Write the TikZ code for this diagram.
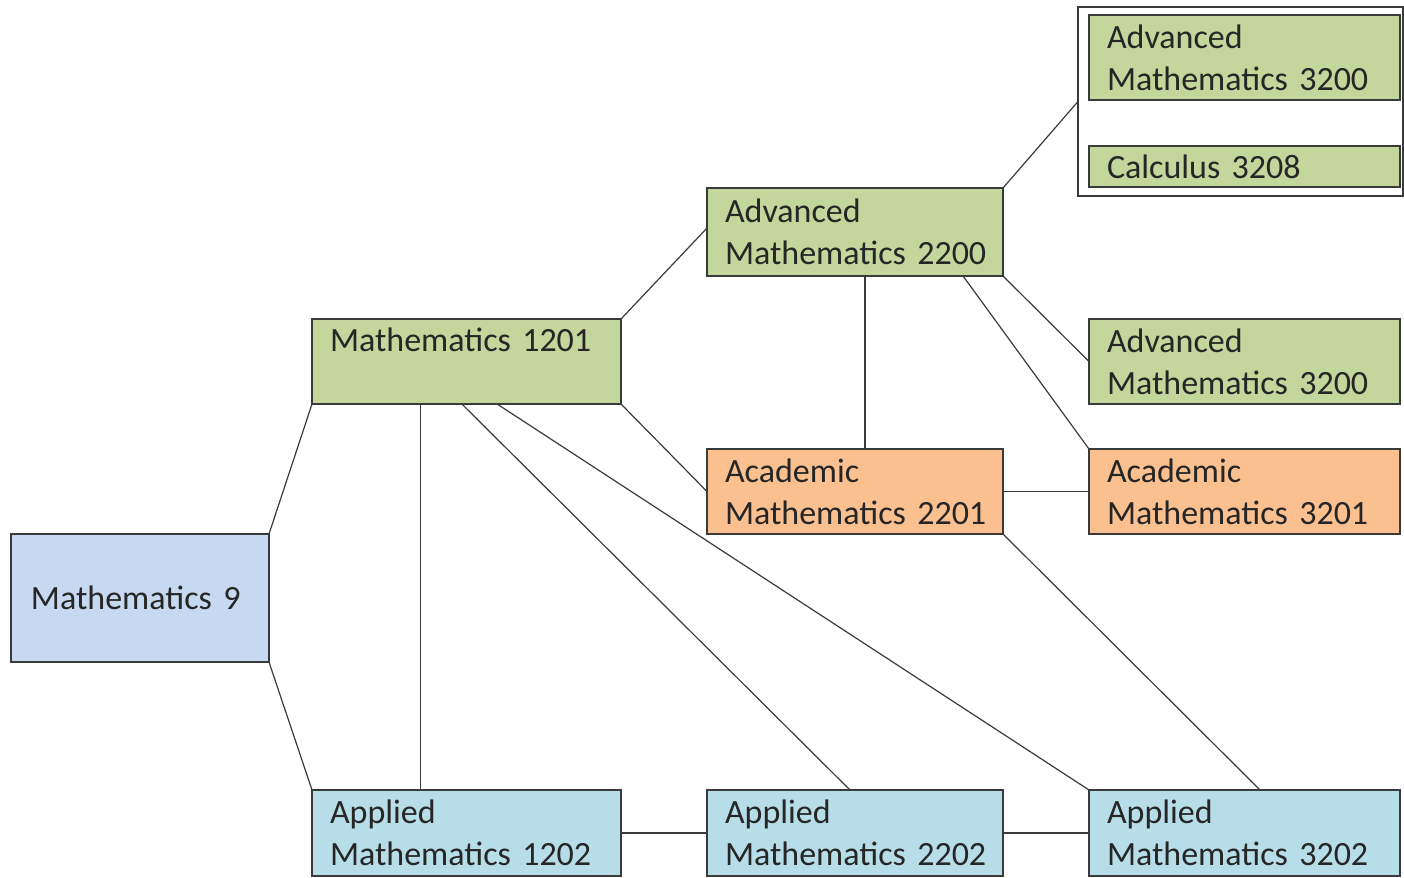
\documentclass[tikz,border=0pt]{standalone}
\usepackage{fontspec}
\setmainfont{Carlito}
\usetikzlibrary{calc}
\definecolor{grn}{HTML}{C3D69B}
\definecolor{org}{HTML}{FAC090}
\definecolor{blu}{HTML}{C6D9F1}
\definecolor{lbl}{HTML}{B7DEE8}
\definecolor{bord}{HTML}{3A3A3A}
\definecolor{txt}{HTML}{262626}
\begin{document}
\begin{tikzpicture}[x=0.75pt,y=-0.75pt,
  box/.style={draw=bord, line width=1.1pt, anchor=north west, inner xsep=13.5pt, inner ysep=0pt,
    outer sep=0pt, align=left, font=\fontsize{25.5}{31.5}\selectfont, text=txt},
  wide/.style={box, minimum width=231.75pt, text width=204.75pt},
  mid/.style={box, minimum width=222pt, text width=195pt},
  right/.style={box, minimum width=233.25pt, text width=206.25pt},
  conn/.style={draw=bord, line width=0.9pt}]
\useasboundingbox (0,0) rectangle (1404,878);
% nodes
\node[box, fill=blu, minimum width=193.5pt, text width=163.5pt, inner xsep=15pt, minimum height=96pt] (m9) at (11,534) {Mathematics 9};
\node[wide, fill=grn, text height=24pt, text depth=39.75pt] (m1201) at (312,319) {Mathematics 1201};
\node[wide, fill=lbl, minimum height=64.5pt] (a1202) at (312,790) {Applied\\\mbox{Mathematics 1202}};
\node[mid, fill=grn, minimum height=66pt] (adv2200) at (707,188) {Advanced\\\mbox{Mathematics 2200}};
\node[mid, fill=org, minimum height=63.75pt] (ac2201) at (707,449) {Academic\\\mbox{Mathematics 2201}};
\node[mid, fill=lbl, minimum height=64.5pt] (a2202) at (707,790) {Applied\\\mbox{Mathematics 2202}};
\node[box, draw=bord, line width=1.3pt, minimum width=243.75pt, minimum height=141.75pt] (grp) at (1078,7) {};
\node[right, fill=grn, minimum height=63.75pt] (adv3200a) at (1089,15) {Advanced\\\mbox{Mathematics 3200}};
\node[right, fill=grn, minimum height=30.75pt] (calc) at (1089,146) {Calculus 3208};
\node[right, fill=grn, minimum height=63.75pt] (adv3200b) at (1089,319) {Advanced\\\mbox{Mathematics 3200}};
\node[right, fill=org, minimum height=63.75pt] (ac3201) at (1089,449) {Academic\\\mbox{Mathematics 3201}};
\node[right, fill=lbl, minimum height=64.5pt] (a3202) at (1089,790) {Applied\\\mbox{Mathematics 3202}};
% anchor points
\coordinate (p1) at ($(m1201.south west)!0.35!(m1201.south east)$);
\coordinate (p2) at ($(m1201.south west)!0.485!(m1201.south east)$);
\coordinate (p3) at ($(m1201.south west)!0.599!(m1201.south east)$);
\coordinate (q2) at ($(a2202.north west)!0.483!(a2202.north east)$);
\coordinate (q3) at ($(a3202.north west)!0.55!(a3202.north east)$);
\coordinate (r1) at ($(adv2200.south west)!0.534!(adv2200.south east)$);
\coordinate (r2) at ($(adv2200.south west)!0.865!(adv2200.south east)$);
\coordinate (r3) at ($(adv2200.north west)!0.455!(adv2200.south west)$);
% connectors
\draw[conn] (m9.north east) -- (m1201.south west);
\draw[conn] (m9.south east) -- (a1202.north west);
\draw[conn] (p1) -- (p1 |- a1202.north);
\draw[conn] (p2) -- (q2);
\draw[conn] (p3) -- (a3202.north west);
\draw[conn] (m1201.north east) -- (r3);
\draw[conn] (m1201.south east) -- (ac2201.west);
\draw[conn] (r1) -- (r1 |- ac2201.north);
\draw[conn] (adv2200.north east) -- (grp.west);
\draw[conn] (adv2200.south east) -- (adv3200b.west);
\draw[conn] (r2) -- (ac3201.north west);
\draw[conn] (ac2201.east) -- (ac3201.west);
\draw[conn] (ac2201.south east) -- (q3);
\draw[conn] (a1202.east) -- (a2202.west);
\draw[conn] (a2202.east) -- (a3202.west);
\end{tikzpicture}
\end{document}
